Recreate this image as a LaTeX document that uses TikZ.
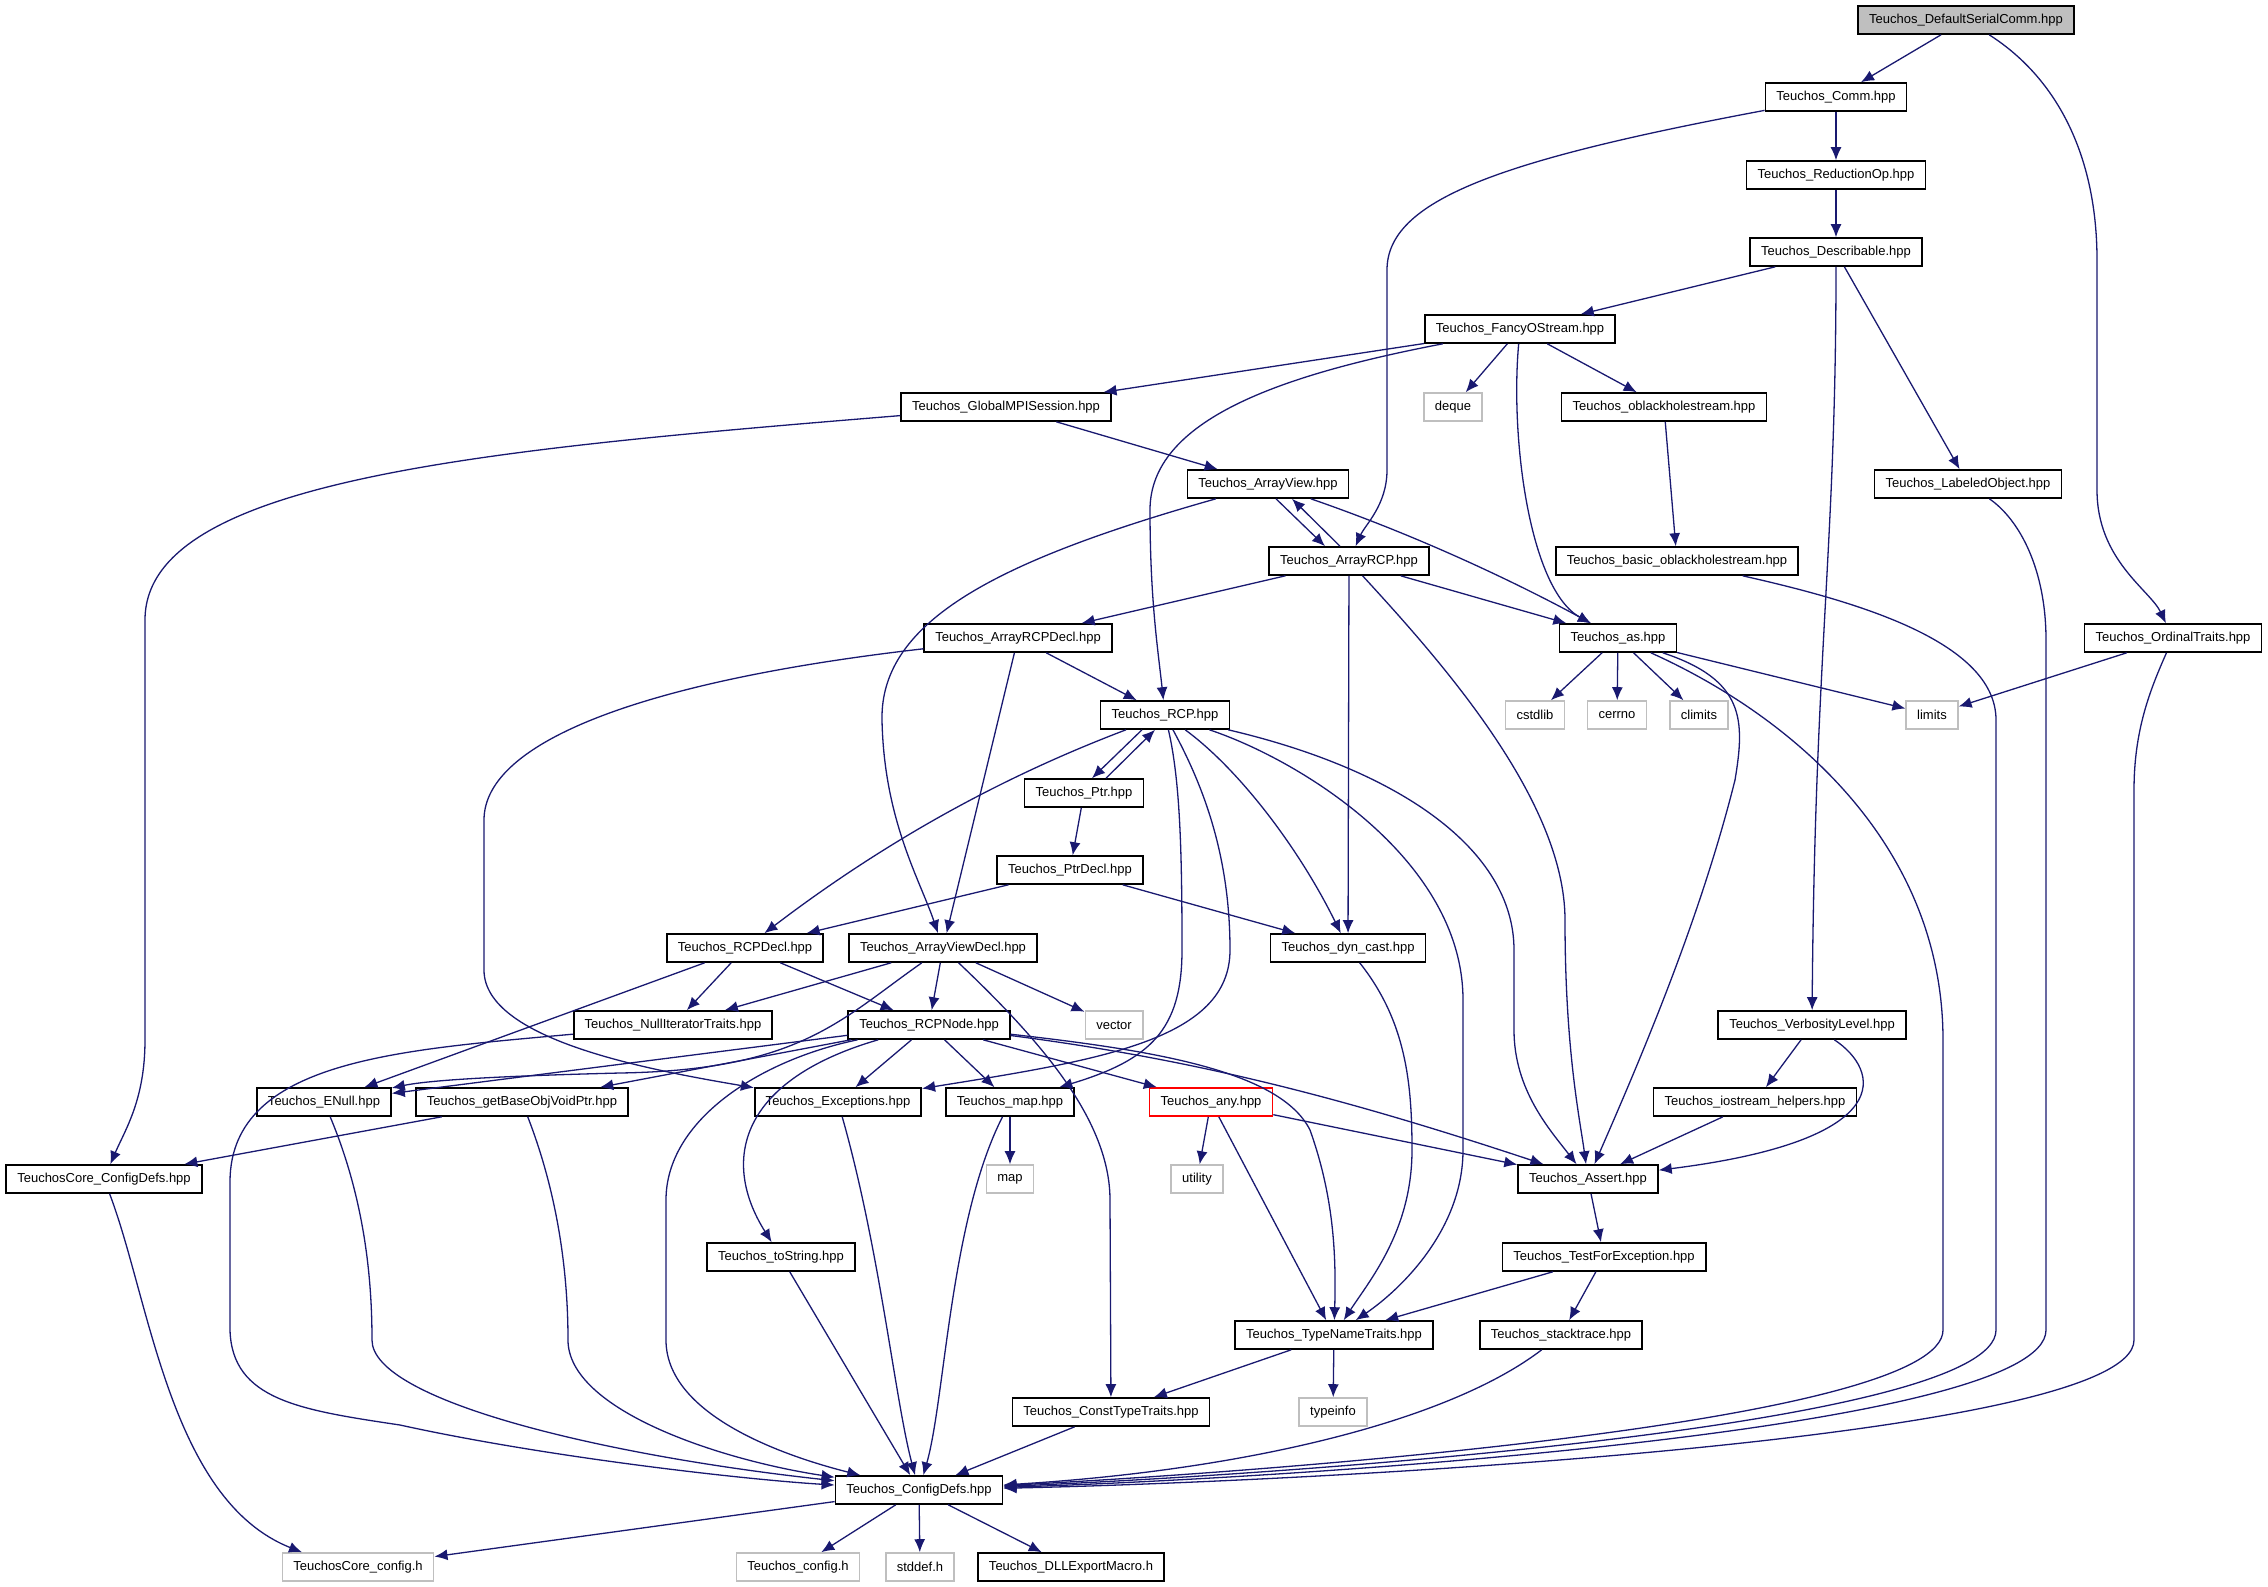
\documentclass[tikz,border=0pt]{standalone}
\usepackage{fontspec}
\setsansfont{Liberation Sans}
\usepackage{tikz}
\usetikzlibrary{arrows.meta}
\definecolor{edgeblue}{RGB}{25,25,112}
\definecolor{sysgray}{RGB}{191,191,191}

\begin{document}
\begin{tikzpicture}[x=1pt, y=-1pt,
    file/.style={draw=black, line width=1.6pt, fill=white, minimum height=28pt, inner xsep=11pt, inner ysep=0pt, font=\sffamily\fontsize{13}{15}\selectfont},
    sys/.style={file, draw=sysgray},
    root/.style={file, fill=sysgray},
    broken/.style={file, draw=red},
    dep/.style={draw=edgeblue, line width=1.3pt, -{Latex[length=13pt,width=11pt]}}]
    \useasboundingbox (0,0) rectangle (2268,1587);

    \node[root] (dsc) at (1966, 20) {Teuchos\_DefaultSerialComm.hpp};
    \node[file] (comm) at (1836, 97) {Teuchos\_Comm.hpp};
    \node[file] (redop) at (1836, 175) {Teuchos\_ReductionOp.hpp};
    \node[file] (descr) at (1836, 252) {Teuchos\_Describable.hpp};
    \node[file] (fancy) at (1520, 329) {Teuchos\_FancyOStream.hpp};
    \node[file] (gmpi) at (1006, 407) {Teuchos\_GlobalMPISession.hpp};
    \node[sys] (deque) at (1453, 407) {deque};
    \node[file] (oblack) at (1664, 407) {Teuchos\_oblackholestream.hpp};
    \node[file] (aview) at (1268, 484) {Teuchos\_ArrayView.hpp};
    \node[file] (labeled) at (1968, 484) {Teuchos\_LabeledObject.hpp};
    \node[file] (arcp) at (1349, 561) {Teuchos\_ArrayRCP.hpp};
    \node[file] (basicob) at (1677, 561) {Teuchos\_basic\_oblackholestream.hpp};
    \node[file] (arcpdecl) at (1018, 638) {Teuchos\_ArrayRCPDecl.hpp};
    \node[file] (as) at (1618, 638) {Teuchos\_as.hpp};
    \node[file] (ordinal) at (2173, 638) {Teuchos\_OrdinalTraits.hpp};
    \node[file] (rcp) at (1165, 715) {Teuchos\_RCP.hpp};
    \node[sys] (cstdlib) at (1535, 715) {cstdlib};
    \node[sys] (cerrno) at (1617, 715) {cerrno};
    \node[sys] (climits) at (1699, 715) {climits};
    \node[sys] (limits) at (1932, 715) {limits};
    \node[file] (ptr) at (1084, 793) {Teuchos\_Ptr.hpp};
    \node[file] (ptrdecl) at (1070, 870) {Teuchos\_PtrDecl.hpp};
    \node[file] (rcpdecl) at (745, 948) {Teuchos\_RCPDecl.hpp};
    \node[file] (avdecl) at (943, 948) {Teuchos\_ArrayViewDecl.hpp};
    \node[file] (dyncast) at (1348, 948) {Teuchos\_dyn\_cast.hpp};
    \node[file] (nullit) at (673, 1025) {Teuchos\_NullIteratorTraits.hpp};
    \node[file] (rcpnode) at (929, 1025) {Teuchos\_RCPNode.hpp};
    \node[sys] (vector) at (1114, 1025) {vector};
    \node[file] (verb) at (1812, 1025) {Teuchos\_VerbosityLevel.hpp};
    \node[file] (enull) at (324, 1102) {Teuchos\_ENull.hpp};
    \node[file] (getbase) at (522, 1102) {Teuchos\_getBaseObjVoidPtr.hpp};
    \node[file] (excep) at (838, 1102) {Teuchos\_Exceptions.hpp};
    \node[file] (tmap) at (1010, 1102) {Teuchos\_map.hpp};
    \node[broken] (any) at (1211, 1102) {Teuchos\_any.hpp};
    \node[file] (iohelp) at (1755, 1102) {Teuchos\_iostream\_helpers.hpp};
    \node[file] (coredefs) at (104, 1179) {TeuchosCore\_ConfigDefs.hpp};
    \node[sys] (stdmap) at (1010, 1179) {map};
    \node[sys] (utility) at (1197, 1179) {utility};
    \node[file] (assert) at (1588, 1179) {Teuchos\_Assert.hpp};
    \node[file] (tostring) at (781, 1257) {Teuchos\_toString.hpp};
    \node[file] (testfor) at (1604, 1257) {Teuchos\_TestForException.hpp};
    \node[file] (typename) at (1334, 1335) {Teuchos\_TypeNameTraits.hpp};
    \node[file] (stacktrace) at (1561, 1335) {Teuchos\_stacktrace.hpp};
    \node[file] (consttt) at (1111, 1412) {Teuchos\_ConstTypeTraits.hpp};
    \node[sys] (typeinfo) at (1333, 1412) {typeinfo};
    \node[file] (configdefs) at (919, 1490) {Teuchos\_ConfigDefs.hpp};
    \node[sys] (coreconfigh) at (358, 1567) {TeuchosCore\_config.h};
    \node[sys] (configh) at (798, 1567) {Teuchos\_config.h};
    \node[sys] (stddef) at (920, 1567) {stddef.h};
    \node[file] (dll) at (1071, 1567) {Teuchos\_DLLExportMacro.h};

    \draw[dep] (dsc) -- (comm);
    \draw[dep] (dsc) .. controls (2060,80) and (2097,160) .. (2097,260) -- (2097,490) .. controls (2097,560) and (2150,590) .. (ordinal);
    \draw[dep] (comm) -- (redop);
    \draw[dep] (comm) .. controls (1500,160) and (1387,200) .. (1387,270) -- (1387,470) .. controls (1387,505) and (1365,525) .. (arcp);
    \draw[dep] (redop) -- (descr);
    \draw[dep] (descr) -- (fancy);
    \draw[dep] (descr) .. controls (1836,550) and (1815,650) .. (verb);
    \draw[dep] (descr) -- (labeled);
    \draw[dep] (fancy) -- (gmpi);
    \draw[dep] (fancy) .. controls (1280,375) and (1150,420) .. (1150,510) .. controls (1150,600) and (1158,650) .. (rcp);
    \draw[dep] (fancy) -- (deque);
    \draw[dep] (fancy) -- (oblack);
    \draw[dep] (fancy) .. controls (1510,440) and (1530,590) .. (as);
    \draw[dep] (gmpi) .. controls (480,450) and (145,480) .. (145,620) -- (145,1040) .. controls (145,1100) and (125,1130) .. (coredefs);
    \draw[dep] (gmpi) -- (aview);
    \draw[dep] (oblack) -- (basicob);
    \draw[dep] (labeled) .. controls (2020,520) and (2046,570) .. (2046,640) -- (2046,1330) .. controls (2046,1430) and (1300,1478) .. (configdefs);
    \draw[dep] ([xshift=8pt]aview.south) -- ([xshift=-24pt]arcp.north);
    \draw[dep] ([xshift=-9pt]arcp.north) -- ([xshift=24pt]aview.south);
    \draw[dep] (aview) .. controls (1000,560) and (880,620) .. (882,720) .. controls (884,820) and (920,880) .. (avdecl);
    \draw[dep] (aview) .. controls (1430,540) and (1530,590) .. (as);
    \draw[dep] (basicob) .. controls (1850,600) and (1996,640) .. (1996,720) -- (1996,1330) .. controls (1996,1425) and (1300,1474) .. (configdefs);
    \draw[dep] (arcp) -- (arcpdecl);
    \draw[dep] (arcp) -- (as);
    \draw[dep] (arcp) -- (dyncast);
    \draw[dep] (arcp) .. controls (1440,660) and (1565,800) .. (1565,920) .. controls (1565,1050) and (1580,1120) .. (assert);
    \draw[dep] (arcpdecl) -- (rcp);
    \draw[dep] (arcpdecl) -- (avdecl);
    \draw[dep] (arcpdecl) .. controls (650,680) and (484,740) .. (484,820) -- (484,970) .. controls (484,1040) and (650,1070) .. (excep);
    \draw[dep] (as) -- (cstdlib);
    \draw[dep] (as) -- (cerrno);
    \draw[dep] (as) -- (climits);
    \draw[dep] (as) -- (limits);
    \draw[dep] (as) .. controls (1745,680) and (1745,720) .. (1735,780) .. controls (1700,920) and (1640,1060) .. (assert);
    \draw[dep] (as) .. controls (1800,720) and (1943,850) .. (1943,1040) -- (1943,1330) .. controls (1943,1420) and (1300,1470) .. (configdefs);
    \draw[dep] (ordinal) -- (limits);
    \draw[dep] (ordinal) .. controls (2150,690) and (2134,730) .. (2134,790) -- (2134,1340) .. controls (2134,1440) and (1300,1482) .. (configdefs);
    \draw[dep] ([xshift=-23pt]rcp.south) -- ([xshift=8pt]ptr.north);
    \draw[dep] ([xshift=22pt]ptr.north) -- ([xshift=-10pt]rcp.south);
    \draw[dep] (rcp) .. controls (1020,770) and (900,830) .. (rcpdecl);
    \draw[dep] (rcp) .. controls (1240,770) and (1300,850) .. (dyncast);
    \draw[dep] (rcp) .. controls (1180,780) and (1182,850) .. (1182,950) .. controls (1182,1030) and (1150,1060) .. (tmap);
    \draw[dep] (rcp) .. controls (1200,780) and (1230,850) .. (1230,950) .. controls (1230,1040) and (1100,1060) .. (excep);
    \draw[dep] (rcp) .. controls (1300,760) and (1463,860) .. (1463,1000) -- (1463,1150) .. controls (1463,1230) and (1400,1290) .. (typename);
    \draw[dep] (rcp) .. controls (1400,770) and (1514,850) .. (1514,950) -- (1514,1030) .. controls (1514,1090) and (1550,1130) .. (assert);
    \draw[dep] (ptr) -- (ptrdecl);
    \draw[dep] (ptrdecl) -- (rcpdecl);
    \draw[dep] (ptrdecl) -- (dyncast);
    \draw[dep] (rcpdecl) -- (nullit);
    \draw[dep] (rcpdecl) -- (rcpnode);
    \draw[dep] (rcpdecl) -- (enull);
    \draw[dep] (avdecl) -- (nullit);
    \draw[dep] (avdecl) -- (rcpnode);
    \draw[dep] (avdecl) -- (vector);
    \draw[dep] (avdecl) .. controls (840,1020) and (800,1070) .. (620,1073) .. controls (500,1076) and (430,1080) .. (enull);
    \draw[dep] (avdecl) .. controls (1040,1040) and (1110,1120) .. (1110,1200) -- (consttt);
    \draw[dep] (dyncast) .. controls (1405,1020) and (1412,1080) .. (1412,1150) .. controls (1412,1230) and (1370,1280) .. (typename);
    \draw[dep] (nullit) .. controls (400,1050) and (232,1060) .. (230,1180) -- (230,1330) .. controls (232,1400) and (300,1410) .. (400,1425) .. controls (550,1458) and (750,1480) .. (configdefs);
    \draw[dep] (rcpnode) -- (enull);
    \draw[dep] (rcpnode) -- (getbase);
    \draw[dep] (rcpnode) -- (excep);
    \draw[dep] (rcpnode) -- (tmap);
    \draw[dep] (rcpnode) -- (any);
    \draw[dep] (rcpnode) .. controls (1150,1050) and (1280,1070) .. (1310,1130) .. controls (1335,1200) and (1336,1260) .. (typename);
    \draw[dep] (rcpnode) .. controls (1200,1060) and (1350,1100) .. (assert);
    \draw[dep] (rcpnode) .. controls (740,1080) and (720,1160) .. (tostring);
    \draw[dep] (rcpnode) .. controls (760,1060) and (666,1120) .. (666,1200) -- (666,1340) .. controls (666,1420) and (800,1460) .. (configdefs);
    \draw[dep] (verb) -- (iohelp);
    \draw[dep] (verb) .. controls (1880,1070) and (1900,1140) .. (assert);
    \draw[dep] (enull) .. controls (365,1200) and (372,1280) .. (372,1340) .. controls (372,1400) and (600,1455) .. (configdefs);
    \draw[dep] (getbase) -- (coredefs);
    \draw[dep] (getbase) .. controls (560,1200) and (568,1280) .. (568,1340) .. controls (568,1410) and (720,1460) .. (configdefs);
    \draw[dep] (excep) .. controls (880,1250) and (895,1400) .. (configdefs);
    \draw[dep] (tmap) -- (stdmap);
    \draw[dep] (tmap) .. controls (950,1220) and (945,1400) .. (configdefs);
    \draw[dep] (any) -- (utility);
    \draw[dep] (any) -- (typename);
    \draw[dep] (any) -- (assert);
    \draw[dep] (iohelp) -- (assert);
    \draw[dep] (coredefs) .. controls (150,1300) and (170,1500) .. ([xshift=-56pt]coreconfigh.north);
    \draw[dep] (assert) -- (testfor);
    \draw[dep] (testfor) -- (typename);
    \draw[dep] (testfor) -- (stacktrace);
    \draw[dep] (tostring) -- (configdefs);
    \draw[dep] (typename) -- (consttt);
    \draw[dep] (typename) -- (typeinfo);
    \draw[dep] (stacktrace) .. controls (1450,1420) and (1250,1470) .. (configdefs);
    \draw[dep] (consttt) -- (configdefs);
    \draw[dep] (configdefs) -- (coreconfigh);
    \draw[dep] (configdefs) -- (configh);
    \draw[dep] (configdefs) -- (stddef);
    \draw[dep] (configdefs) -- (dll);
\end{tikzpicture}
\end{document}
